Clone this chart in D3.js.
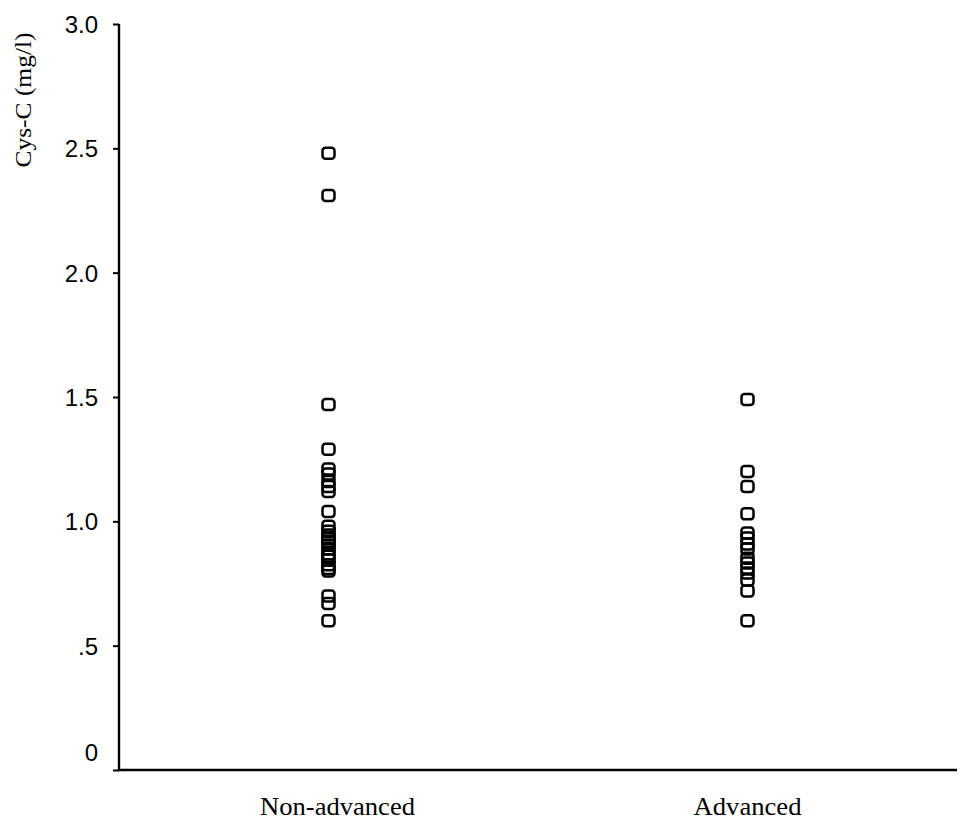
<!DOCTYPE html>
<html>
<head>
<meta charset="utf-8">
<script src="https://cdn.jsdelivr.net/npm/d3@7"></script>
<style>
  html, body { margin: 0; padding: 0; background: #fff; }
  svg { display: block; }
</style>
</head>
<body>
<script>
// ---- data ----
const categories = ["Non-advanced", "Advanced"];
const nonAdvancedValues = [2.48, 2.31, 1.47, 1.29, 1.21, 1.19, 1.16, 1.14, 1.12, 1.04,
  0.98, 0.96, 0.945, 0.93, 0.92, 0.905, 0.89, 0.87, 0.86, 0.845, 0.825, 0.81, 0.80,
  0.70, 0.67, 0.60];
const advancedValues = [1.49, 1.20, 1.14, 1.03, 0.953, 0.933, 0.909, 0.889, 0.852,
  0.832, 0.812, 0.792, 0.764, 0.72, 0.60];
const yTickValues = [0, 0.5, 1.0, 1.5, 2.0, 2.5, 3.0];
const yTickLabels = ["0", ".5", "1.0", "1.5", "2.0", "2.5", "3.0"];
const yAxisTitle = "Cys-C (mg/l)";

// ---- layout ----
const W = 969, H = 829;
const svg = d3.select("body").append("svg").attr("width", W).attr("height", H);

const x = d3.scalePoint().domain(categories).range([119, 957]).padding(0.5);
const y = d3.scaleLinear().domain([0, 3]).range([770, 24]);

// y axis
const yAxis = d3.axisLeft(y)
  .tickValues(yTickValues)
  .tickFormat((d, i) => yTickLabels[i])
  .tickSize(6)
  .tickSizeOuter(0)
  .tickPadding(15);
const gy = svg.append("g").attr("transform", "translate(119,0)").call(yAxis);
gy.select(".domain").attr("stroke", "#000").attr("stroke-width", 2.4)
  .attr("d", `M0,${y(3)}V${y(0) + 1}`);
gy.selectAll(".tick line").attr("stroke", "#000").attr("stroke-width", 2);
gy.selectAll(".tick text")
  .attr("font-family", "'Liberation Sans', Arial, sans-serif")
  .attr("font-size", 24)
  .attr("fill", "#000")
  .attr("dy", d => d === 0 ? "-0.4em" : "0.36em");

// x axis line (no ticks)
const gx = svg.append("g").attr("transform", `translate(0,${y(0)})`);
gx.append("line").attr("x1", 118).attr("x2", 957).attr("y1", 0).attr("y2", 0)
  .attr("stroke", "#000").attr("stroke-width", 2.6);

// category labels
const labelShift = { "Non-advanced": 9, "Advanced": 0 };
const labelLen = { "Non-advanced": 155, "Advanced": 108 };
svg.selectAll("text.cat").data(categories).enter().append("text")
  .attr("class", "cat")
  .attr("x", d => x(d) + labelShift[d] - labelLen[d] / 2)
  .attr("y", 815)
  .attr("textLength", d => labelLen[d])
  .attr("lengthAdjust", "spacingAndGlyphs")
  .attr("font-family", "'Liberation Serif', 'Times New Roman', serif")
  .attr("font-size", 26)
  .attr("fill", "#000")
  .text(d => d);

// y title
svg.append("text")
  .attr("transform", "translate(31,100) rotate(-90)")
  .attr("text-anchor", "middle")
  .attr("font-family", "'Liberation Serif', 'Times New Roman', serif")
  .attr("font-size", 24)
  .attr("textLength", 135)
  .attr("lengthAdjust", "spacingAndGlyphs")
  .attr("fill", "#000")
  .text(yAxisTitle);

// points
const series = [
  { cat: categories[0], values: nonAdvancedValues },
  { cat: categories[1], values: advancedValues }
];
const pts = series.flatMap(s => s.values.map(v => ({ cat: s.cat, v })));
const mw = 12, mh = 11;
svg.append("g").selectAll("rect").data(pts).enter().append("rect")
  .attr("x", d => x(d.cat) - mw / 2)
  .attr("y", d => y(d.v) - mh / 2)
  .attr("width", mw).attr("height", mh)
  .attr("rx", 3).attr("ry", 3)
  .attr("fill", "none")
  .attr("stroke", "#000")
  .attr("stroke-width", 2.5);
</script>
</body>
</html>
